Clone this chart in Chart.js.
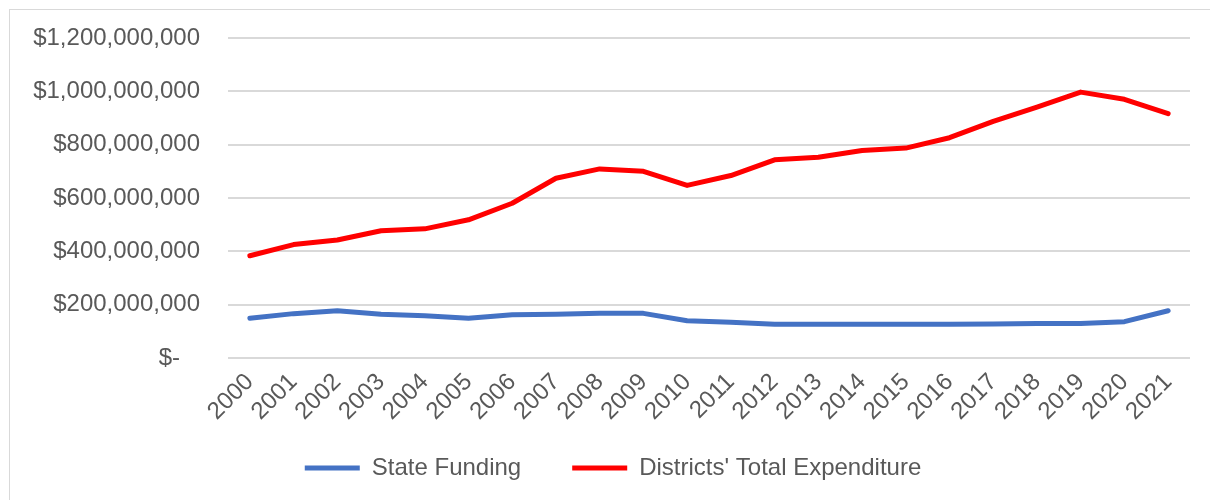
<!DOCTYPE html>
<html>
<head>
<meta charset="utf-8">
<script src="https://cdn.jsdelivr.net/npm/chart.js@4"></script>
<style>
  html, body { margin: 0; padding: 0; background: #fff; overflow: hidden; }
  #frame { position: absolute; left: 9px; top: 9px; width: 1210px; height: 500px; border: 1px solid #d9d9d9; box-sizing: border-box; }
  #wrap { position: absolute; left: 0; top: 0; width: 1200px; height: 490px; }
</style>
</head>
<body>
<div id="frame"><div id="wrap"><canvas id="chart"></canvas></div></div>
<script>
const years = ['2000','2001','2002','2003','2004','2005','2006','2007','2008','2009','2010',
               '2011','2012','2013','2014','2015','2016','2017','2018','2019','2020','2021'];
const stateFunding = [149e6, 166e6, 177e6, 164e6, 158e6, 149e6, 162e6, 164e6, 167e6, 167e6, 139e6,
                      134e6, 126e6, 126e6, 126e6, 126e6, 126e6, 127e6, 129e6, 129e6, 136e6, 177e6];
const districtsTotal = [383e6, 425e6, 442e6, 477e6, 484e6, 518e6, 580e6, 674e6, 709e6, 700e6, 647e6,
                        684e6, 743e6, 753e6, 778e6, 787e6, 826e6, 887e6, 941e6, 997e6, 970e6, 916e6];
const yTicks = [0, 200e6, 400e6, 600e6, 800e6, 1000e6, 1200e6];

const fmt = v => v === 0 ? '$-   ' : '$' + v.toLocaleString('en-US');
const txt = '#595959';
Chart.defaults.font.family = '"Liberation Sans", Arial, sans-serif';
Chart.defaults.font.size = 24;
Chart.defaults.color = txt;

// wider gap between the two legend entries without making the legend taller
const GAP = 23;
const legendGap = {
    id: 'legendGap',
    afterInit(chart) {
        const lg = chart.legend, draw = lg.draw;
        lg.draw = function (area) {
            const lab = this.options.labels, pad = lab.padding, top = this.top, left = this.left;
            lab.padding = pad + GAP; this.top = top - GAP; this.left = left - 20;
            draw.call(this, area);
            lab.padding = pad; this.top = top; this.left = left;
        };
    }
};

new Chart(document.getElementById('chart'), {
    type: 'line',
    data: {
        labels: years,
        datasets: [
            { label: 'State Funding', data: stateFunding, borderColor: '#4472c4', backgroundColor: '#4472c4',
              borderWidth: 5, pointRadius: 0, borderCapStyle: 'round', borderJoinStyle: 'round', tension: 0 },
            { label: "Districts' Total Expenditure", data: districtsTotal, borderColor: '#ff0000', backgroundColor: '#ff0000',
              borderWidth: 5, pointRadius: 0, borderCapStyle: 'round', borderJoinStyle: 'round', tension: 0 }
        ]
    },
    plugins: [legendGap],
    options: {
        responsive: true, maintainAspectRatio: false, animation: false,
        layout: { padding: { left: 0, right: 20, top: 28, bottom: 10 } },
        plugins: {
            tooltip: { enabled: false },
            legend: {
                position: 'bottom',
                labels: { usePointStyle: true, pointStyle: 'line', pointStyleWidth: 55, padding: 28, color: txt }
            }
        },
        scales: {
            x: {
                offset: true,
                grid: { display: false },
                border: { display: false },
                ticks: { maxRotation: 45, minRotation: 45, autoSkip: false, padding: 2 }
            },
            y: {
                min: 0, max: 1200e6,
                afterBuildTicks: axis => { axis.ticks = yTicks.map(v => ({ value: v })); },
                afterFit: axis => { axis.width = 218; },
                grid: { color: '#d9d9d9', lineWidth: 2, drawTicks: true, tickLength: 28, tickColor: 'rgba(0,0,0,0)' },
                border: { display: false },
                ticks: { padding: 0, callback: v => fmt(v) }
            }
        }
    }
});
</script>
</body>
</html>
